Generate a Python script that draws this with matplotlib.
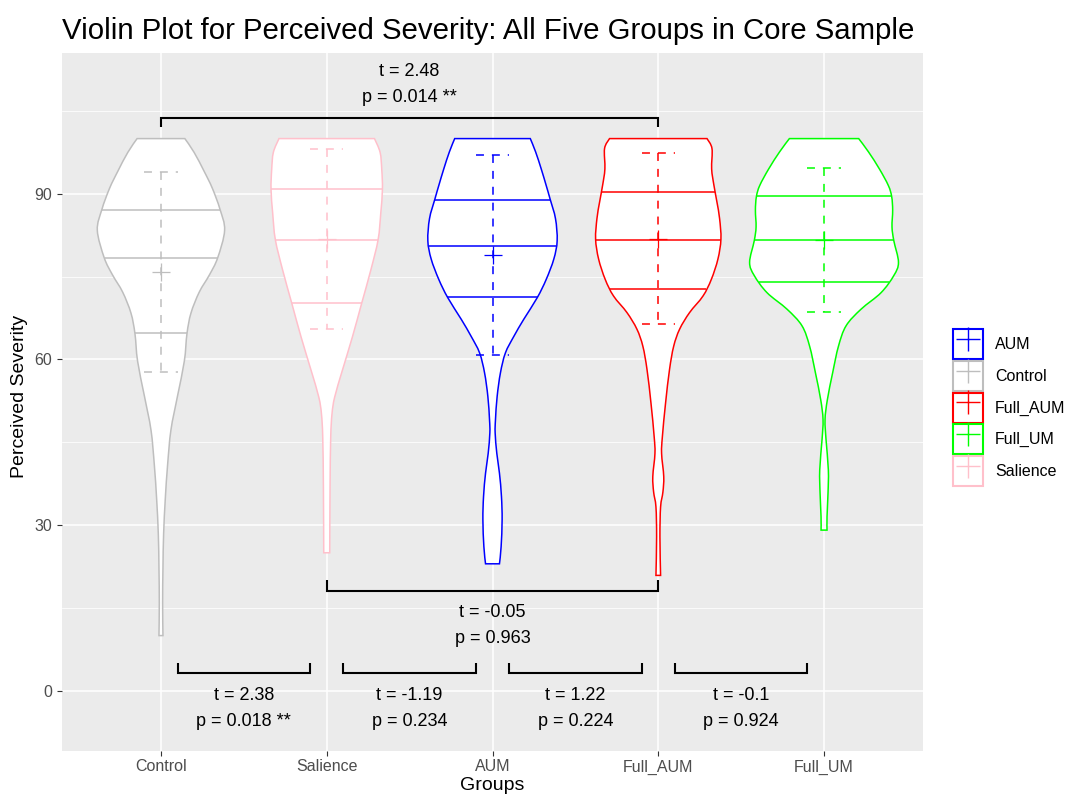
import numpy as np
import matplotlib
matplotlib.use("Agg")
import matplotlib.pyplot as plt
from matplotlib.path import Path
from matplotlib.patches import PathPatch, Patch
from matplotlib.lines import Line2D
from matplotlib.legend_handler import HandlerTuple

plt.rcParams["font.family"] = ["Liberation Sans", "DejaVu Sans"]

# ---------------- data ----------------
groups = ["Control", "Salience", "AUM", "Full_AUM", "Full_UM"]
legend_order = ["AUM", "Control", "Full_AUM", "Full_UM", "Salience"]
group_colors = ["#BEBEBE", "#FFC0CB", "#0000FF", "#FF0000", "#00FF00"]

# violin outlines: severity levels and half-widths (category units)
control_levels = [10.0, 15.9, 22.2, 28.4, 34.7, 40.9, 47.2, 53.4, 59.7, 64.7, 68.4,
                  72.2, 75.3, 78.4, 83.4, 87.2, 91.0, 94.1, 97.5, 100.0]
control_width = [0.012, 0.010, 0.012, 0.016, 0.026, 0.040, 0.060, 0.100, 0.141, 0.157,
                 0.181, 0.231, 0.292, 0.342, 0.384, 0.356, 0.310, 0.260, 0.200, 0.144]

salience_levels = [25.0, 36.8, 45.9, 50.2, 53.2, 58.1, 64.1, 70.2, 76.2, 81.7, 86.5,
                   90.8, 94.4, 97.5, 100.0]
salience_width = [0.018, 0.020, 0.024, 0.032, 0.048, 0.095, 0.155, 0.211, 0.266, 0.310,
                  0.326, 0.336, 0.332, 0.322, 0.288]

aum_levels = [23.0, 26.1, 31.0, 35.2, 39.4, 43.0, 46.7, 49.1, 53.3, 57.6, 61.2, 64.2,
              67.3, 71.2, 74.5, 78.2, 81.5, 85.5, 89.0, 91.5, 94.5, 97.6, 100.0]
aum_width = [0.042, 0.052, 0.058, 0.054, 0.042, 0.026, 0.016, 0.018, 0.028, 0.048,
             0.078, 0.129, 0.189, 0.270, 0.324, 0.370, 0.390, 0.380, 0.348, 0.324,
             0.294, 0.260, 0.228]

full_aum_levels = [20.9, 27.9, 33.3, 36.0, 38.8, 43.0, 46.1, 52.1, 58.2, 62.4, 65.5,
                   68.5, 71.5, 74.5, 78.2, 81.8, 85.5, 88.5, 91.5, 94.5, 98.2, 100.0]
full_aum_width = [0.014, 0.010, 0.014, 0.028, 0.033, 0.020, 0.025, 0.044, 0.068, 0.093,
                  0.129, 0.189, 0.270, 0.320, 0.360, 0.378, 0.370, 0.354, 0.336, 0.322,
                  0.324, 0.294]

full_um_levels = [29.1, 31.5, 35.8, 40.0, 45.5, 49.1, 52.7, 57.6, 62.4, 66.1, 69.1,
                  72.1, 75.2, 77.6, 81.5, 84.0, 87.0, 89.5, 91.5, 94.5, 97.6, 100.0]
full_um_width = [0.018, 0.018, 0.024, 0.026, 0.012, 0.006, 0.020, 0.052, 0.087, 0.133,
                 0.223, 0.344, 0.421, 0.449, 0.421, 0.410, 0.414, 0.408, 0.388, 0.334,
                 0.268, 0.209]

# 25th / 50th / 75th percentiles drawn inside each violin
q25 = [64.8, 70.3, 71.4, 72.7, 73.95]
q50 = [78.3, 81.6, 80.6, 81.7, 81.55]
q75 = [87.1, 90.85, 88.95, 90.4, 89.6]

# group means and standard deviations (mean +/- sd error bars)
means = [75.9, 81.85, 78.95, 81.9, 81.65]
sds = [18.1, 16.35, 18.15, 15.5, 13.1]

# pairwise t-tests between neighbouring groups: (t, p label)
adjacent_tests = [("2.38", "0.018 **"), ("-1.19", "0.234"),
                  ("1.22", "0.224"), ("-0.1", "0.924")]
wide_test_top = ("Control", "Full_AUM", "2.48", "0.014 **")
wide_test_bottom = ("Salience", "Full_AUM", "-0.05", "0.963")

y_ticks = [0, 30, 60, 90]
y_minor = [15, 45, 75, 105]

profiles = {
    "Control": (control_levels, control_width),
    "Salience": (salience_levels, salience_width),
    "AUM": (aum_levels, aum_width),
    "Full_AUM": (full_aum_levels, full_aum_width),
    "Full_UM": (full_um_levels, full_um_width),
}

# ---------------- figure ----------------
W, H = 1068, 794
fig = plt.figure(figsize=(W / 100, H / 100), dpi=100)
px_l, px_r, px_t, px_b = 61.5, 923.5, 53, 751
ax = fig.add_axes([px_l / W, 1 - px_b / H, (px_r - px_l) / W, (px_b - px_t) / H])
ax.set_facecolor("#EBEBEB")
for s in ax.spines.values():
    s.set_visible(False)
ax.set_xlim(0.4, 5.6)
ax.set_ylim(-10.9, 115.5)

# grid
for v in y_minor:
    ax.axhline(v, color="white", lw=0.55, zorder=0)
for v in y_ticks:
    ax.axhline(v, color="white", lw=1.1, zorder=0)
for i in range(len(groups)):
    ax.axvline(i + 1, color="white", lw=1.1, zorder=0)

ax.set_xticks(range(1, len(groups) + 1))
ax.set_xticklabels(groups)
ax.set_yticks(y_ticks)
ax.tick_params(axis="both", length=3.6, width=0.8, color="#333333",
               labelcolor="#4D4D4D", labelsize=11.5)
ax.tick_params(axis="x", pad=2.5)
ax.tick_params(axis="y", pad=3.0)


def bezier_side(pts):
    """Catmull-Rom curve through pts, returned as cubic Bezier vertices."""
    ext = np.vstack([pts[0], pts, pts[-1]])
    verts = []
    for i in range(len(pts) - 1):
        p0, p1, p2, p3 = ext[i], ext[i + 1], ext[i + 2], ext[i + 3]
        verts += [p1 + (p2 - p0) / 6.0, p2 - (p3 - p1) / 6.0, p2]
    return verts


def violin_patch(xc, levels, half, color):
    y = np.asarray(levels, float)
    w = np.asarray(half, float)
    right = np.column_stack([xc + w, y])
    left = np.column_stack([xc - w[::-1], y[::-1]])
    rv = bezier_side(right)
    lv = bezier_side(left)
    verts = [right[0]] + rv + [left[0]] + lv + [right[0]]
    codes = ([Path.MOVETO] + [Path.CURVE4] * len(rv) + [Path.LINETO]
             + [Path.CURVE4] * len(lv) + [Path.CLOSEPOLY])
    return PathPatch(Path(verts, codes), facecolor="white", edgecolor=color,
                     lw=1.1, zorder=2)


lw = 1.1
dash = (0, (5.2, 5.2))
for i, g in enumerate(groups):
    xc = i + 1
    c = group_colors[i]
    lv, hw = profiles[g]
    ax.add_patch(violin_patch(xc, lv, hw, c))
    for q in (q25[i], q50[i], q75[i]):
        half = np.interp(q, lv, hw)
        ax.plot([xc - half, xc + half], [q, q], color=c, lw=lw, zorder=3,
                solid_capstyle="butt")
    lo, hi = means[i] - sds[i], means[i] + sds[i]
    ax.plot([xc - 0.1, xc + 0.1], [hi, hi], color=c, lw=lw, ls=dash, zorder=4)
    ax.plot([xc, xc], [hi, lo], color=c, lw=lw, ls=dash, zorder=4)
    ax.plot([xc - 0.1, xc + 0.1], [lo, lo], color=c, lw=lw, ls=dash, zorder=4)
    ax.plot([xc], [means[i]], marker="+", ms=13.5, mew=0.9, color=c, zorder=5)

# significance brackets
txt_kw = dict(ha="center", va="center", fontsize=13, color="black", zorder=6)
br_kw = dict(color="black", lw=1.5, zorder=6, solid_capstyle="butt",
             solid_joinstyle="miter")

for k, (t, p) in enumerate(adjacent_tests):
    x0, x1 = k + 1.1, k + 1.9
    ax.plot([x0, x0, x1, x1], [5.0, 3.2, 3.2, 5.0], **br_kw)
    ax.text(k + 1.5, -0.8, f"t = {t}", **txt_kw)
    ax.text(k + 1.5, -5.6, f"p = {p}", **txt_kw)

ga, gb, t, p = wide_test_top
xa, xb = groups.index(ga) + 1, groups.index(gb) + 1
ax.plot([xa, xa, xb, xb], [102.1, 103.8, 103.8, 102.1], **br_kw)
ax.text((xa + xb) / 2, 112.1, f"t = {t}", **txt_kw)
ax.text((xa + xb) / 2, 107.4, f"p = {p}", **txt_kw)

ga, gb, t, p = wide_test_bottom
xa, xb = groups.index(ga) + 1, groups.index(gb) + 1
ax.plot([xa, xa, xb, xb], [20.0, 18.0, 18.0, 20.0], **br_kw)
ax.text((xa + xb) / 2, 14.1, f"t = {t}", **txt_kw)
ax.text((xa + xb) / 2, 9.5, f"p = {p}", **txt_kw)

# titles
fig.text(62 / W, 1 - 38.6 / H,
         "Violin Plot for Perceived Severity: All Five Groups in Core Sample",
         ha="left", va="baseline", fontsize=21.2)
fig.text(20 / W, 1 - 396 / H, "Perceived Severity", rotation=90,
         ha="center", va="center", fontsize=14)
fig.text(492 / W, 4.5 / H, "Groups", ha="center", va="baseline", fontsize=14)

# legend: white key with coloured border and a cross, as in the mean marker
handles = []
for g in legend_order:
    c = group_colors[groups.index(g)]
    handles.append((Patch(facecolor="white", edgecolor=c, lw=1.5),
                    Line2D([], [], color=c, marker="+", ms=17, mew=1.0, ls="")))
fig.legend(handles, legend_order, handler_map={tuple: HandlerTuple(ndivide=1, pad=0)},
           loc="upper left", bbox_to_anchor=(953 / W, 1 - 329 / H),
           borderpad=0, borderaxespad=0, frameon=False, numpoints=1,
           handlelength=1.88, handleheight=2.513, labelspacing=0.11,
           handletextpad=0.75, fontsize=11.5)

fig.savefig("out.png", dpi=100)
